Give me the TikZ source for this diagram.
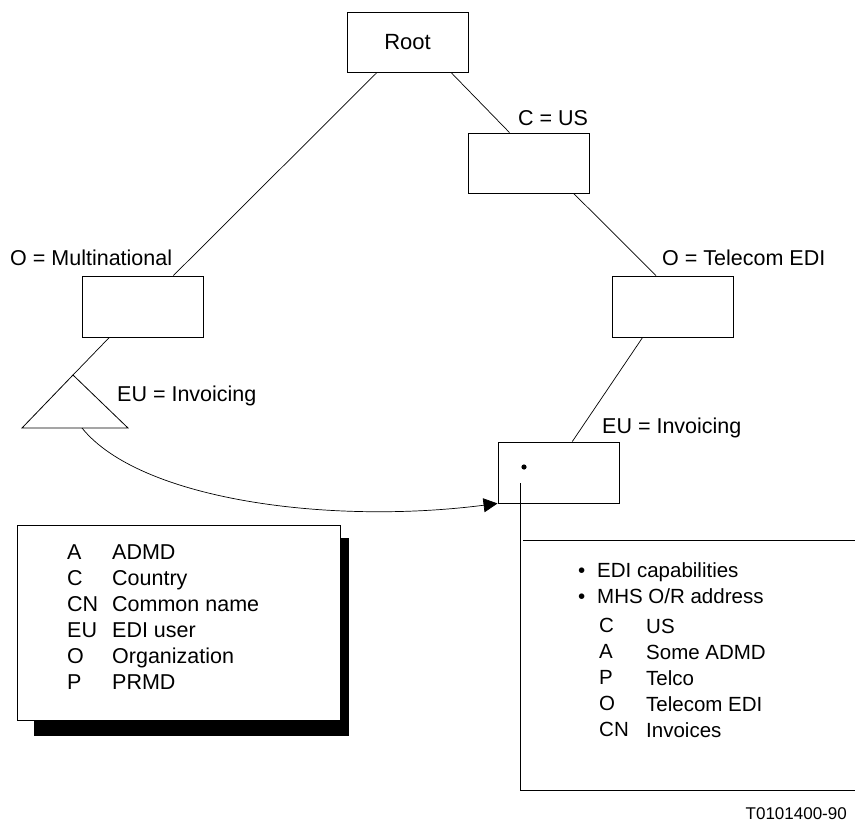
\documentclass[tikz,border=0pt]{standalone}
\usepackage{fontspec}
\setmainfont{Liberation Sans}
\usetikzlibrary{arrows.meta,calc}
\begin{document}
\begin{tikzpicture}[x=1pt,y=-1pt,
  box/.style={draw,line width=0.9pt,minimum width=121pt,minimum height=60pt,inner sep=0pt,fill=white},
  conn/.style={line width=0.7pt},
  lbl/.style={anchor=base west,inner sep=0pt,font=\fontsize{21.5}{24}\selectfont},
  rtxt/.style={anchor=base west,inner sep=0pt,font=\fontsize{20.5}{24}\selectfont}]
\useasboundingbox (0,0) rectangle (855,822);
% tree boxes
\node[box] (root) at (407.5,42) {\fontsize{22}{24}\selectfont Root};
\node[box] (cus) at (528.5,163) {};
\node[box,minimum height=61pt] (org) at (672.5,306.5) {};
\node[box,minimum height=61pt] (mult) at (142.5,306.5) {};
\node[box,minimum height=61pt] (eu) at (558.5,472.5) {};
% triangle
\coordinate (apex) at (73,375);
\coordinate (bl) at (22,428);
\coordinate (br) at (128,428);
\coordinate (tribase) at (82,428);
\draw[line width=0.8pt] (apex) -- (bl) -- (br) -- cycle;
% connectors
\draw[conn] (root) -- (mult);
\draw[conn] (root.-35) -- (cus.122);
\draw[conn] (cus.-34) -- (org.118);
\draw[conn] (org.-134) -- (eu.66);
\draw[conn] (mult.-137) -- (apex);
\draw[conn,-{Triangle[length=14pt,width=14pt]}] (tribase) .. controls (140,500) and (330,525) .. (eu.south west);
% labels
\node[lbl] (lcus) at (518,125) {C = US};
\node[lbl] (lmult) at (10,265) {O = Multinational};
\node[lbl] (lorg) at (662,265) {O = Telecom EDI};
\node[lbl] (leul) at (117,401) {EU = Invoicing};
\node[lbl] (leur) at (602,433) {EU = Invoicing};
% dot in EU box
\fill (524,467) circle (2.6pt);
% callout to right
\coordinate (vtop) at (520,483);
\coordinate (vbot) at (520,790);
\coordinate (htop) at (523,540);
\coordinate (htopr) at (855,540);
\coordinate (hbotr) at (855,790);
\draw[line width=0.8pt] (vtop) -- (vbot) -- (hbotr);
\draw[line width=0.8pt] (htop) -- (htopr);
\node[rtxt] (b1) at (578,577) {•};
\node[rtxt] (t1) at (597,577) {EDI capabilities};
\node[rtxt] (b2) at (578,603) {•};
\node[rtxt] (t2) at (597,603) {MHS O/R address};
\foreach \k/\v/\yy [count=\i] in {C/US/633, A/Some ADMD/659, P/Telco/685, O/Telecom EDI/711, CN/Invoices/737}{
  \node[rtxt] (rk\i) at (599,\yy-1) {\k};
  \node[rtxt] (rv\i) at (646,\yy) {\v};
}
% legend
\fill (34,538) rectangle (349,736);
\node[draw,fill=white,line width=0.8pt,minimum width=323pt,minimum height=195pt,inner sep=0pt] (legend) at (178.5,622.5) {};
\foreach \k/\v/\yy [count=\i] in {A/ADMD/559, C/Country/585, CN/Common name/611, EU/EDI user/637, O/Organization/663, P/PRMD/689}{
  \node[lbl] (lk\i) at (67,\yy) {\k};
  \node[lbl] (lv\i) at (112,\yy) {\v};
}
\node[anchor=base east,inner sep=0pt,font=\fontsize{17}{20}\selectfont] (fig) at (847,819) {T0101400-90};
\end{tikzpicture}
\end{document}
